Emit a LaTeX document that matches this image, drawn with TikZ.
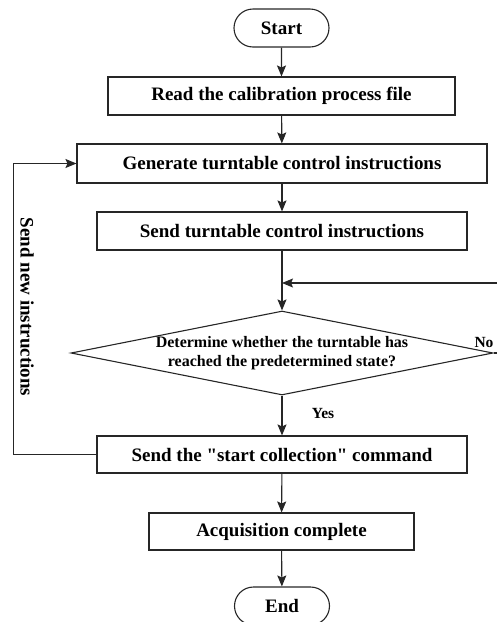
\documentclass[tikz,border=0pt]{standalone}
\usepackage{fontspec}
\setmainfont{Liberation Serif}[Ligatures=TeXOff]
\usetikzlibrary{shapes.misc,shapes.geometric,arrows.meta}
\begin{document}
\begin{tikzpicture}[x=1pt,y=-1pt,
  line width=1.1pt,
  boxst/.style={draw=black!85,rectangle,inner sep=0pt,font=\fontsize{19}{22}\selectfont\bfseries},
  termst/.style={draw=black!85,rounded rectangle,inner sep=0pt,minimum width=95pt,minimum height=38pt,font=\fontsize{19}{22}\selectfont\bfseries},
  diast/.style={draw=black!85,diamond,inner sep=0pt,minimum width=422pt,minimum height=84pt},
  lblst/.style={inner sep=0pt,font=\fontsize{15.5}{18}\selectfont\bfseries},
  arr/.style={draw=black!85,-{Stealth[length=11pt,width=9pt,inset=2pt]}}]
\clip (0,0) rectangle (497,622);
\node[termst] (start) at (281.5,28) {Start};
\node[boxst,minimum width=347pt,minimum height=38pt] (read) at (281.5,96) {Read the calibration process file};
\node[boxst,minimum width=410pt,minimum height=39pt] (gen) at (282,163.5) {Generate turntable control instructions};
\node[boxst,minimum width=370pt,minimum height=38pt] (send) at (282,231) {Send turntable control instructions};
\node[diast] (dec) at (282,353) {};
\node[align=center,inner sep=0pt,font=\fontsize{16}{19}\selectfont\bfseries] (dectext) at (282,353) {Determine whether the turntable has\\reached the predetermined state?};
\node[boxst,minimum width=370pt,minimum height=37pt] (coll) at (282,454.5) {Send the "start collection" command};
\node[boxst,minimum width=265pt,minimum height=37pt] (acq) at (281.5,531.5) {Acquisition complete};
\node[termst] (end) at (282,606) {End};
\coordinate (join) at (282,283);
\node[lblst] (yes) at (323,413) {Yes};
\node[lblst] (no) at (484,342) {No};
\node[inner sep=0pt,rotate=-90,font=\fontsize{19}{22}\selectfont\bfseries] (newins) at (27,307) {Send new instructions};
\draw[arr] (start) -- (read);
\draw[arr] (read) -- (gen);
\draw[arr] (gen) -- (send);
\draw[arr] (send) -- (dec);
\draw[arr] (dec) -- (coll);
\draw[arr] (coll) -- (acq);
\draw[arr] (acq) -- (end);
\draw[arr] (coll.west) -- ++(-83,0) |- (gen.west);
\draw[arr] (dec.east) -- ++(15,0) |- (join);
\end{tikzpicture}
\end{document}
